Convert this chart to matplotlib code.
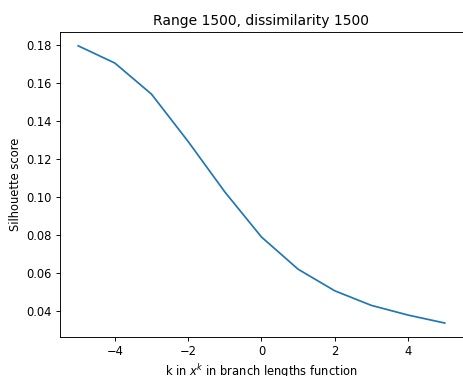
import numpy as np
import matplotlib
matplotlib.use("Agg")
import matplotlib.pyplot as plt

k_values = [-5, -4, -3, -2, -1, 0, 1, 2, 3, 4, 5]
silhouette = [0.1798, 0.1707, 0.1543, 0.1293, 0.1027, 0.0789, 0.0619, 0.0505, 0.0428, 0.0377, 0.0335]

# reference looks like a default figure drawn at ~83% scale
s = 0.83
plt.rcParams['font.size'] = 10 * s
plt.rcParams['axes.titlesize'] = 12 * s
plt.rcParams['xtick.major.size'] = 3.5 * s
plt.rcParams['ytick.major.size'] = 3.5 * s
plt.rcParams['axes.linewidth'] = 0.8 * s
plt.rcParams['xtick.major.width'] = 0.8 * s
plt.rcParams['ytick.major.width'] = 0.8 * s

fig = plt.figure(figsize=(4.64, 3.76), dpi=100)
ax = fig.add_axes([0.129, 0.104, 0.869, 0.811])
ax.plot(k_values, silhouette, linewidth=1.5 * s)
ax.set_title('Range 1500, dissimilarity 1500', pad=6 * s)
ax.set_xlabel('k in $x^k$ in branch lengths function', labelpad=4 * s)
ax.set_ylabel('Silhouette score', labelpad=4 * s)
ax.tick_params(pad=3.5 * s)
fig.savefig('out.png', dpi=100)
